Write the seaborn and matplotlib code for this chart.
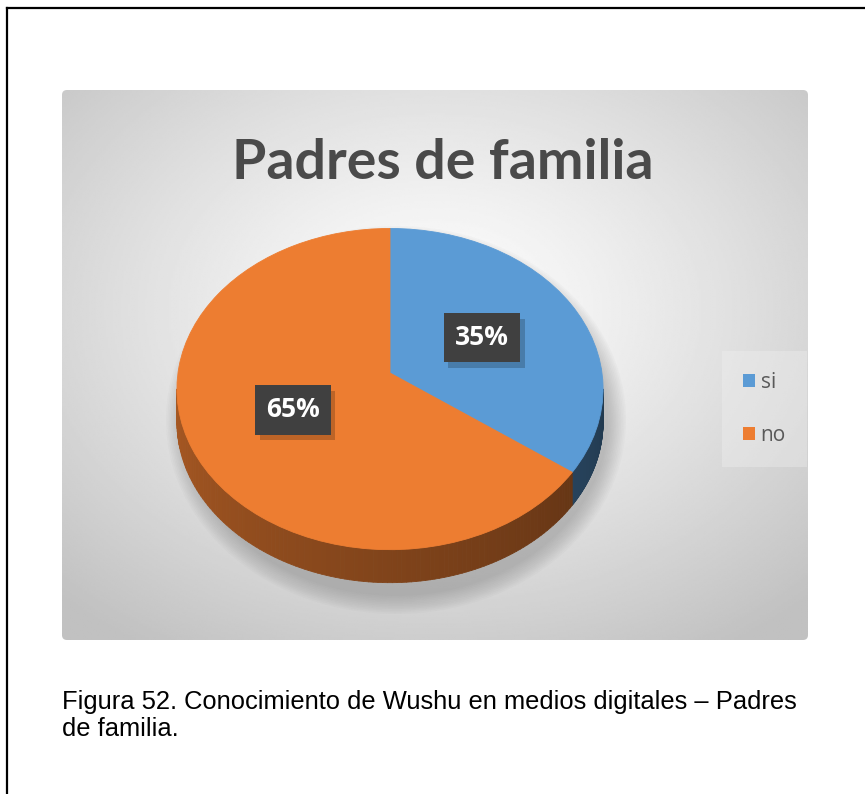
import numpy as np
import matplotlib
matplotlib.use("Agg")
import matplotlib.pyplot as plt
import matplotlib.transforms as mtransforms
import matplotlib.patheffects as pe
from matplotlib.patches import FancyBboxPatch, Ellipse, Patch
from matplotlib.collections import PolyCollection
import seaborn as sns

# ---- data -------------------------------------------------------------
categories = ["si", "no"]
shares = [35, 65]
label_texts = ["35%", "65%"]
colors = ["#5B9BD5", "#ED7D31"]
title_text = "Padres de familia"
caption_line1 = "Figura 52. Conocimiento de Wushu en medios digitales \u2013 Padres"
caption_line2 = "de familia."

W, H = 865, 794
sns.set_theme(style="white")
plt.rcParams["font.family"] = ["Lato", "DejaVu Sans"]

fig = plt.figure(figsize=(W / 100, H / 100), dpi=100)
fig.patch.set_facecolor("white")

# one axes spanning the figure, in pixel units with y growing downward
ax = fig.add_axes([0, 0, 1, 1])


class Tilt(mtransforms.Transform):
    """Maps unit-disc coordinates onto a tilted, slightly foreshortened disc."""
    input_dims = output_dims = 2
    is_separable = False
    has_inverse = False

    def __init__(self, cx, cy, rx, ry, k):
        super().__init__()
        self.cx, self.cy, self.rx, self.ry, self.k = cx, cy, rx, ry, k

    def transform_non_affine(self, values):
        values = np.asarray(values, float).reshape(-1, 2)
        u, v = values[:, 0], values[:, 1]
        d = 1.0 + self.k * v
        return np.column_stack([self.cx + self.rx * u / d,
                                self.cy - self.ry * v / d])


# ---- chart area background (radial grey gradient) ---------------------
bx0, bx1, by0, by1 = 62, 808, 90, 640
gx = np.linspace(-1, 1, 400)
gy = np.linspace(-1, 1, 300)
GX, GY = np.meshgrid(gx, gy)
r = np.sqrt(GX ** 2 + (GY + 0.2) ** 2) / 1.45
grad = np.clip(0.997 - 0.24 * np.clip(r, 0, 1) ** 1.2, 0, 1)
img = ax.imshow(grad, extent=(bx0, bx1, by1, by0), cmap="gray", vmin=0, vmax=1,
                interpolation="bilinear", zorder=0)
clip = FancyBboxPatch((bx0, by0), bx1 - bx0, by1 - by0,
                      boxstyle="round,pad=0,rounding_size=5",
                      transform=ax.transData, fc="none", ec="none")
ax.add_patch(clip)
img.set_clip_path(clip)

# ---- tilted pie -------------------------------------------------------
k = 0.10
tilt = Tilt(cx=390, cy=373, rx=212, ry=159, k=k)
depth = 33

# soft shadow under the pie, cast downward and to the right
for s in np.linspace(18, 0, 12):
    ax.add_patch(Ellipse((396, 420), 2 * 212 + 2 * s, 352 + 2 * s,
                         fc="#666666", ec="none", alpha=0.03, zorder=1))

wedges, _ = ax.pie(shares, colors=colors, startangle=90, counterclock=False,
                   radius=1.0, wedgeprops=dict(linewidth=0.6, zorder=3))
for w, c in zip(wedges, colors):
    w.set_edgecolor(c)
    w.set_transform(tilt + ax.transData)

# side wall of the disc, only along the front half that faces the viewer
a = np.degrees(np.arcsin(k))
front_lo, front_hi = 180 + a, 360 - a
for w, c in zip(wedges, colors):
    base = np.array(matplotlib.colors.to_rgb(c))
    for shift in (-360, 0, 360):
        lo = max(w.theta1 + shift, front_lo)
        hi = min(w.theta2 + shift, front_hi)
        if hi <= lo:
            continue
        th = np.radians(np.linspace(lo, hi, 120))
        top = tilt.transform(np.column_stack([np.cos(th), np.sin(th)]))
        bot = top + np.array([0, depth])
        quads, qcols = [], []
        for j in range(len(th) - 1):
            quads.append([top[j], top[j + 1], bot[j + 1], bot[j]])
            deg = np.degrees(th[j])
            f = 0.72 - 0.36 * (deg - 180) / 180
            qcols.append(np.clip(base * f, 0, 1))
        ax.add_collection(PolyCollection(quads, facecolors=qcols,
                                         edgecolors=qcols, linewidths=0.6,
                                         zorder=2))

# percentage labels in dark boxes, placed along each slice's bisector
for w, txt in zip(wedges, label_texts):
    mid = np.radians((w.theta1 + w.theta2) / 2)
    pos = (0.5 * np.cos(mid), 0.5 * np.sin(mid))
    t = ax.text(*pos, txt, transform=tilt + ax.transData, ha="center",
                va="center", fontsize=19, fontweight="bold",
                family="Open Sans", color="white",
                bbox=dict(boxstyle="square,pad=0.42", fc="#404040", ec="none"),
                zorder=5)
    t.get_bbox_patch().set_path_effects(
        [pe.SimplePatchShadow(offset=(3, -4), shadow_rgbFace="black", alpha=0.2),
         pe.Normal()])

# ---- title ------------------------------------------------------------
ax.text(443, 163, title_text, ha="center", va="center", fontsize=40,
        fontweight="bold", color="#4a4a4a", zorder=6)

# ---- legend -----------------------------------------------------------
handles = [Patch(facecolor=c, edgecolor="none") for c in colors]
leg = ax.legend(handles, categories, loc="center left",
                bbox_to_anchor=(722 / W, 1 - 409 / H),
                bbox_transform=fig.transFigure, frameon=True, fontsize=15,
                handlelength=0.6, handleheight=0.6, handletextpad=0.25,
                labelspacing=1.55, borderpad=1.0, borderaxespad=0)
leg.get_frame().set_facecolor("#f2f2f2")
leg.get_frame().set_alpha(0.35)
leg.get_frame().set_edgecolor("none")
leg.get_frame().set_boxstyle("square,pad=0")
for t in leg.get_texts():
    t.set_color("#595959")
    t.set_family(["Open Sans", "DejaVu Sans"])

# ---- page frame and caption ------------------------------------------
ax.plot([7, 7], [H + 5, 8], color="black", lw=1.6, solid_capstyle="projecting",
        zorder=7)
ax.plot([7, W + 5], [8, 8], color="black", lw=1.6, solid_capstyle="projecting",
        zorder=7)
ax.text(62, 709, caption_line1, ha="left", va="baseline", fontsize=18.4,
        family="Liberation Sans", color="black", zorder=7)
ax.text(62, 736, caption_line2, ha="left", va="baseline", fontsize=18.4,
        family="Liberation Sans", color="black", zorder=7)

ax.set_xlim(0, W)
ax.set_ylim(H, 0)
ax.set_aspect("auto")
ax.axis("off")

fig.savefig("out.png", dpi=100, facecolor="white")
